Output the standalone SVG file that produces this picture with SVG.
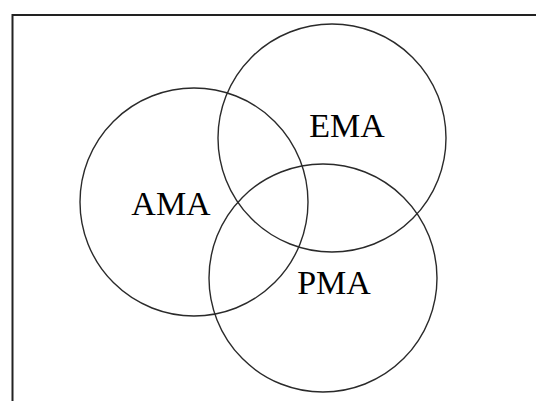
<svg xmlns="http://www.w3.org/2000/svg" width="536" height="401" viewBox="0 0 536 401">
<style>
.c{fill:none;stroke:#2a2a2a;stroke-width:1.4}
.t{font-family:"Liberation Serif",serif;font-size:34px;fill:#000;text-anchor:middle}
.f{fill:none;stroke:#222;stroke-width:2}
</style>
<rect width="536" height="401" fill="#fff"/>
<g id="frame"><path class="f" d="M12.5,401 V15 H536"/></g>
<g id="connectors"></g>
<g id="ama"><circle class="c" cx="194" cy="202" r="114"/><text class="t" x="171" y="215">AMA</text></g>
<g id="ema"><circle class="c" cx="332" cy="138" r="114"/><text class="t" x="347" y="137">EMA</text></g>
<g id="pma"><circle class="c" cx="323" cy="278" r="114"/><text class="t" x="334" y="294">PMA</text></g>
</svg>
